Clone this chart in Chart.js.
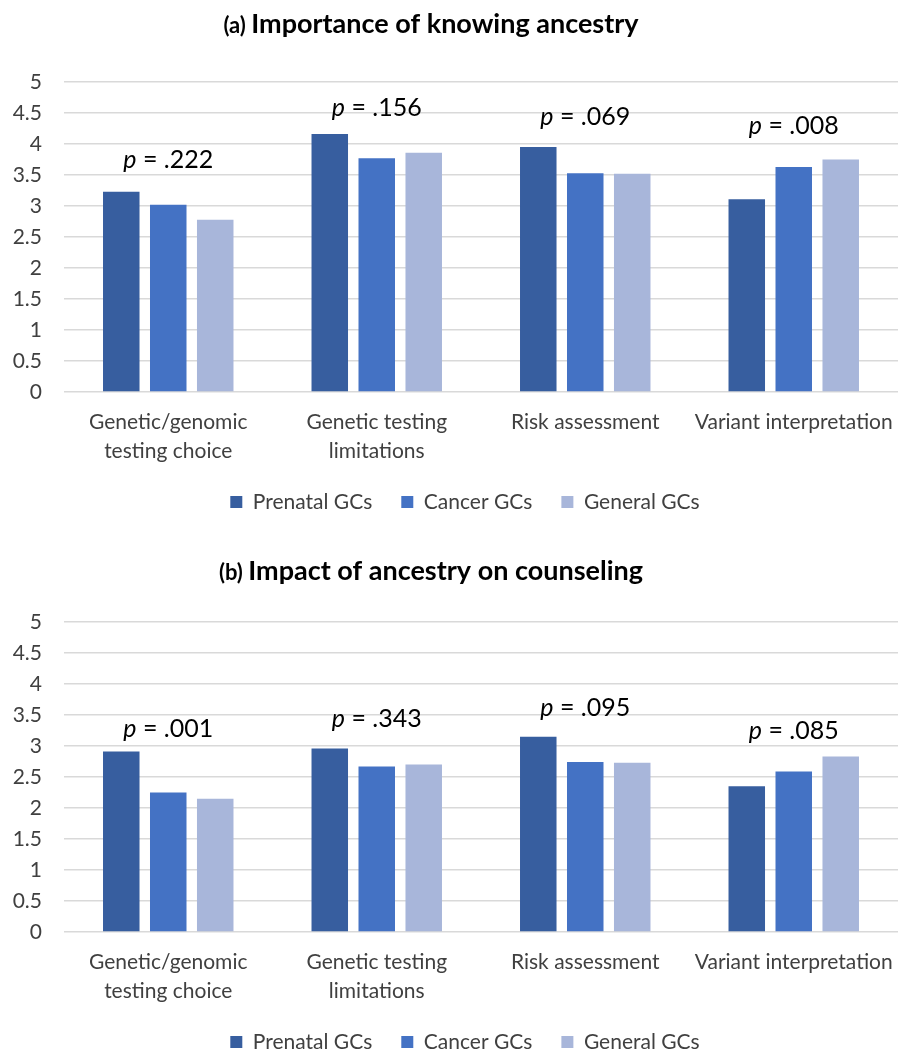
<!DOCTYPE html>
<html>
<head>
<meta charset="utf-8">
<script src="https://cdn.jsdelivr.net/npm/chart.js@4.4.1/dist/chart.umd.min.js"></script>
<style>
  html, body { margin: 0; padding: 0; background: #ffffff; overflow: hidden; }
  .panel { width: 898px; overflow: hidden; }
  canvas { display: block; }
</style>
</head>
<body>
<div class="panel" style="height:540px"><canvas id="chartA" width="898" height="540"></canvas></div>
<div class="panel" style="height:510px"><canvas id="chartB" width="898" height="540"></canvas></div>
<script>
// ---------------- DATA ----------------
const categories = [
  ["Genetic/genomic", "testing choice"],
  ["Genetic testing", "limitations"],
  "Risk assessment",
  "Variant interpretation"
];
const seriesNames = ["Prenatal GCs", "Cancer GCs", "General GCs"];

// (a) Importance of knowing ancestry
const prenatalA = [3.23, 4.16, 3.95, 3.11];
const cancerA   = [3.02, 3.77, 3.53, 3.63];
const generalA  = [2.78, 3.86, 3.52, 3.75];
const pValuesA  = [".222", ".156", ".069", ".008"];
const pLevelA   = [3.74, 4.58, 4.44, 4.29];

// (b) Impact of ancestry on counseling
const prenatalB = [2.91, 2.96, 3.15, 2.35];
const cancerB   = [2.25, 2.67, 2.74, 2.59];
const generalB  = [2.15, 2.70, 2.73, 2.83];
const pValuesB  = [".001", ".343", ".095", ".085"];
const pLevelB   = [3.28, 3.43, 3.62, 3.25];

const yMin = 0, yMax = 5, yStep = 0.5;

// ---------------- STYLE ----------------
const FONT = "Lato, 'Liberation Sans', sans-serif";
const seriesColors = ["#375E9F", "#4472C4", "#A8B6DA"];
const textColor = "#404040";
const gridColor = "#D9D9D9";

const panelTitle = {
  id: "panelTitle",
  afterDraw(chart, args, o) {
    const ctx = chart.ctx;
    ctx.save();
    ctx.fillStyle = "#000";
    ctx.textBaseline = "alphabetic";
    ctx.textAlign = "left";
    const small = "bold 22px " + FONT, big = "bold 27px " + FONT;
    ctx.font = small; const w1 = ctx.measureText(o.prefix + " ").width;
    ctx.font = big;   const w2 = ctx.measureText(o.text).width;
    const x = o.cx - (w1 + w2) / 2;
    ctx.font = small; ctx.fillText(o.prefix, x, o.baseline);
    ctx.font = big;   ctx.fillText(o.text, x + w1, o.baseline);
    ctx.restore();
  }
};

const pLabels = {
  id: "pLabels",
  afterDatasetsDraw(chart, args, o) {
    const ctx = chart.ctx, xs = chart.scales.x, ys = chart.scales.y;
    ctx.save();
    ctx.fillStyle = "#000";
    ctx.textBaseline = "middle";
    ctx.textAlign = "left";
    o.values.forEach((v, i) => {
      const cx = xs.getPixelForValue(i), cy = ys.getPixelForValue(o.levels[i]);
      const rest = " = " + v;
      ctx.font = "italic 25px " + FONT; const wp = ctx.measureText("p").width;
      ctx.font = "25px " + FONT; const wr = ctx.measureText(rest).width;
      const x0 = cx - (wp + wr) / 2;
      ctx.font = "italic 25px " + FONT; ctx.fillText("p", x0, cy);
      ctx.font = "25px " + FONT; ctx.fillText(rest, x0 + wp, cy);
    });
    ctx.restore();
  }
};

// shift the legend block to the right (its centre sits at x≈465 in the reference)
const legendShift = {
  id: "legendShift",
  afterLayout(chart, args, o) {
    if (chart.legend) { chart.legend.left += o.dx; }
  }
};

function makeChart(id, series, pVals, pLevels, prefix, title, titleBaseline) {
  const datasets = series.map((d, i) => ({
    label: seriesNames[i],
    data: d,
    backgroundColor: seriesColors[i],
    borderWidth: 0,
    categoryPercentage: 0.676,
    barPercentage: 0.777
  }));
  return new Chart(document.getElementById(id), {
    type: "bar",
    data: { labels: categories, datasets },
    plugins: [panelTitle, pLabels, legendShift],
    options: {
      responsive: false,
      animation: false,
      devicePixelRatio: 1,
      layout: { padding: { top: 82, left: 0, right: 0, bottom: 17.5 } },
      scales: {
        x: {
          grid: { display: false, drawTicks: false },
          border: { display: false },
          ticks: {
            color: textColor,
            font: { family: FONT, size: 21, lineHeight: 29 / 21 },
            padding: 16,
            maxRotation: 0,
            autoSkip: false
          },
          afterFit(scale) { scale.height = 70.5; scale.paddingLeft = 0; scale.paddingRight = 0; }
        },
        y: {
          min: yMin, max: yMax,
          grid: { color: gridColor, lineWidth: 1.5, drawTicks: false },
          border: { display: false },
          ticks: {
            stepSize: yStep,
            color: textColor,
            font: { family: FONT, size: 21 },
            padding: 22,
            callback: (v) => String(Math.round(v * 10) / 10)
          },
          afterFit(scale) { scale.width = 64; }
        }
      },
      plugins: {
        tooltip: { enabled: false },
        legend: {
          position: "bottom",
          labels: {
            boxWidth: 12, boxHeight: 12,
            padding: 29,
            color: textColor,
            font: { family: FONT, size: 21 }
          }
        },
        legendShift: { dx: 32 },
        panelTitle: { prefix: prefix, text: title, cx: 431, baseline: titleBaseline },
        pLabels: { values: pVals, levels: pLevels }
      }
    }
  });
}

function draw() {
  makeChart("chartA", [prenatalA, cancerA, generalA], pValuesA, pLevelA,
            "(a)", "Importance of knowing ancestry", 33);
  makeChart("chartB", [prenatalB, cancerB, generalB], pValuesB, pLevelB,
            "(b)", "Impact of ancestry on counseling", 40);
}
const loads = ["21px Lato", "bold 27px Lato", "bold 22px Lato", "italic 25px Lato"].map(f => document.fonts.load(f));
Promise.all(loads).then(draw, draw);
</script>
</body>
</html>
